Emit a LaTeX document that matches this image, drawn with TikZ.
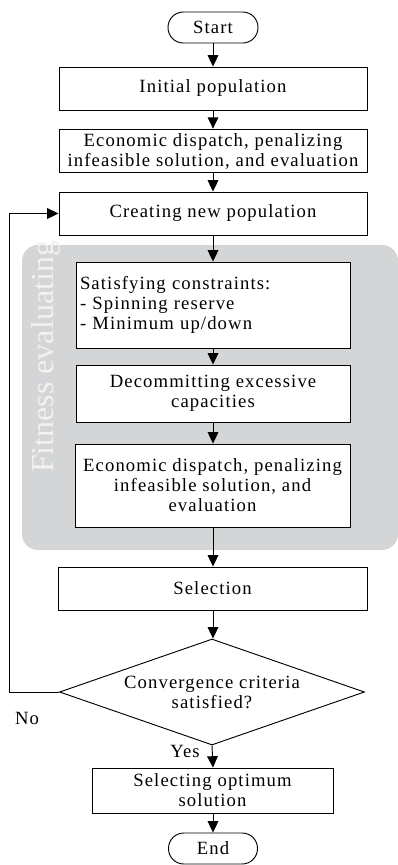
\documentclass[tikz,border=0pt]{standalone}
\usepackage{fontspec}
\setmainfont[LetterSpace=6]{Liberation Serif}
\newfontfamily\fitfont{Liberation Serif}
\usetikzlibrary{shapes.geometric,arrows.meta}
\definecolor{fitgray}{RGB}{212,213,215}
\definecolor{fittext}{RGB}{242,242,242}
\tikzset{
  box/.style={draw=black, line width=0.7pt, fill=white, inner sep=3pt, align=center,
    font=\fontsize{14}{15}\selectfont},
  term/.style={box, rounded corners=11.5pt, minimum width=67.5pt, minimum height=23.25pt},
  decision/.style={draw=black, line width=0.7pt, fill=white, diamond, inner sep=0pt,
    aspect=2.88, align=center, font=\fontsize{14}{15}\selectfont},
  flow/.style={draw=black, line width=0.7pt, -{Triangle[width=8pt,length=8.5pt]}},
  lbl/.style={font=\fontsize{14}{15}\selectfont, inner sep=0pt}
}
\begin{document}
\begin{tikzpicture}[x=0.75pt,y=-0.75pt]
\useasboundingbox (0,0) rectangle (398,865);
\fill[fitgray, rounded corners=12pt] (22,245) rectangle (398,550);
\node[rotate=90, text=fittext, font=\fitfont\fontsize{24}{26}\selectfont, inner sep=0pt] (fit) at (46,357) {Fitness evaluating};

\node[term] (start) at (213,27.5) {Start};
\node[box, minimum width=231pt, minimum height=32.25pt] (init) at (213,88.5) {Initial population};
\node[box, minimum width=231pt, minimum height=31.5pt] (ed1) at (213,151) {Economic dispatch, penalizing\\infeasible solution, and evaluation};
\node[box, minimum width=231pt, minimum height=32.25pt] (create) at (213,213.5) {Creating new population};
\node[box, minimum width=205.5pt, minimum height=64.5pt, text width=199.5pt, align=left] (sat) at (213,305) {Satisfying constraints:\\- Spinning reserve\\- Minimum up/down};
\node[box, minimum width=205.5pt, minimum height=42.75pt] (dec) at (213,393.5) {Decommitting excessive\\capacities};
\node[box, minimum width=206.25pt, minimum height=62.25pt] (ed2) at (212.5,485.5) {Economic dispatch, penalizing\\infeasible solution, and\\evaluation};
\node[box, minimum width=231.75pt, minimum height=32.25pt] (sel) at (212.5,588.5) {Selection};
\node[decision, minimum width=228.75pt, minimum height=79.5pt] (conv) at (212,692) {Convergence criteria\\satisfied?};
\node[box, minimum width=180.75pt, minimum height=33.75pt] (sol) at (212.5,790.5) {Selecting optimum\\solution};
\node[term, minimum width=66.75pt] (end) at (213,848.5) {End};

\node[lbl] (no) at (27,718) {No};
\node[lbl, anchor=east] (yes) at (200,751) {Yes};

\coordinate (loopb) at (9,692);
\coordinate (loopt) at (9,213.5);

\draw[flow] (start) -- (init);
\draw[flow] (init) -- (ed1);
\draw[flow] (ed1) -- (create);
\draw[flow] (create.south) -- (sat.north);
\draw[flow] (sat) -- (dec);
\draw[flow] (dec) -- (ed2.north -| dec.south);
\draw[flow] (ed2.south -| dec.south) -- (sel.north -| dec.south);
\draw[flow] (sel.south -| dec.south) -- (conv.north -| dec.south);
\draw[flow] (conv.south) -- (sol.north -| dec.south);
\draw[flow] (sol.south -| dec.south) -- (end.north);
\draw[flow] (conv.west) -- (loopb) -- (loopt) -- (create.west);
\end{tikzpicture}
\end{document}
